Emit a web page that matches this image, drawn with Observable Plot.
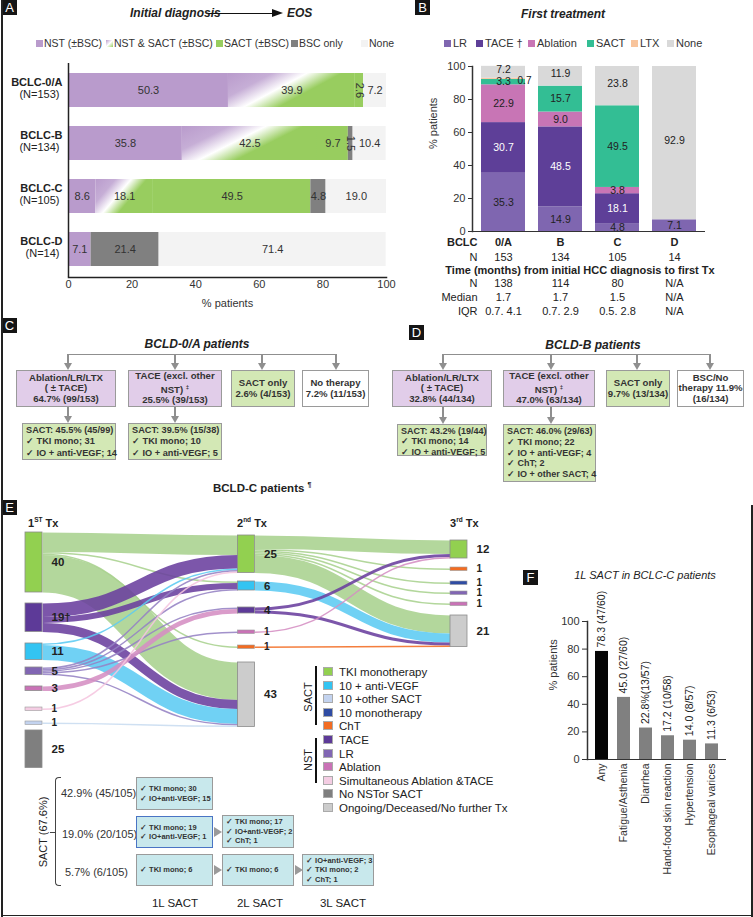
<!DOCTYPE html>
<html>
<head>
<meta charset="utf-8">
<script src="https://cdn.jsdelivr.net/npm/d3@7"></script>
<script src="https://cdn.jsdelivr.net/npm/@observablehq/plot@0.6"></script>
<style>
html,body{margin:0;padding:0;background:#fff;}
#fig{position:relative;width:753px;height:917px;overflow:hidden;font-family:"Liberation Sans",Arial,Helvetica,sans-serif;color:#222;}
#fig div{position:absolute;}
.plab{background:#151515;color:#fff;font-size:13px;width:15px;height:15px;line-height:15px;text-align:center;}
.ttl{font-size:12px;font-weight:bold;font-style:italic;white-space:nowrap;line-height:14px;}
.lg{font-size:10.5px;white-space:nowrap;line-height:13px;color:#333;}
.box{box-sizing:border-box;border:1px solid #9a9a9a;font-size:9.6px;font-weight:bold;color:#333;line-height:10.5px;display:flex;flex-direction:column;justify-content:center;align-items:center;text-align:center;white-space:nowrap;}
.sub{box-sizing:border-box;border:1px solid #9a9a9a;font-size:9.2px;font-weight:bold;color:#333;line-height:11.3px;padding:1px 3px;white-space:nowrap;}
.cyan{box-sizing:border-box;border:1px solid #9a9a9a;background:#c8e8ec;font-size:7.5px;font-weight:bold;color:#333;line-height:9.5px;padding:0 3px;white-space:nowrap;display:flex;flex-direction:column;justify-content:center;}
.txt{white-space:nowrap;}
</style>
</head>
<body>
<div id="fig"></div>
<script>
// ================= DATA =================
// Panel A: status from initial diagnosis to end of study
const stagesA = ["BCLC-0/A", "BCLC-B", "BCLC-C", "BCLC-D"];
const stageNA = ["(N=153)", "(N=134)", "(N=105)", "(N=14)"];
const catsA = ["NST (±BSC)", "NST & SACT (±BSC)", "SACT (±BSC)", "BSC only", "None"];
const nstA = [50.3, 35.8, 8.6, 7.1];
const nstSactA = [39.9, 42.5, 18.1, 0];
const sactA = [2.6, 9.7, 49.5, 0];
const bscA = [0, 1.5, 4.8, 21.4];
const noneA = [7.2, 10.4, 19.0, 71.4];
const ticksPct = [0, 20, 40, 60, 80, 100];

// Panel B: first treatment
const stagesB = ["0/A", "B", "C", "D"];
const catsB = ["LR", "TACE †", "Ablation", "SACT", "LTX", "None"];
const lrB = [35.3, 14.9, 4.8, 7.1];
const taceB = [30.7, 48.5, 18.1, 0];
const ablB = [22.9, 9.0, 3.8, 0];
const sactB = [3.3, 15.7, 49.5, 0];
const ltxB = [0.7, 0, 0, 0];
const noneB = [7.2, 11.9, 23.8, 92.9];
const nB = ["153", "134", "105", "14"];
const timeNB = ["138", "114", "80", "N/A"];
const medianB = ["1.7", "1.7", "1.5", "N/A"];
const iqrB = ["0.7. 4.1", "0.7. 2.9", "0.5. 2.8", "N/A"];

// Panel E: Sankey of BCLC-C treatment lines
const col1Nodes = ["TKI", "TACE", "IOV", "LR", "Abl", "Sim", "IOO", "NoNST"];
const col1Values = [40, 19, 11, 5, 3, 1, 1, 25];
const col1Labels = ["40", "19†", "11", "5", "3", "1", "1", "25"];
const col2Nodes = ["TKI", "IOV", "TACE", "Abl", "ChT", "Ong"];
const col2Values = [25, 6, 4, 1, 1, 43];
const col2Labels = ["25", "6", "4", "1", "1", "43"];
const col3Nodes = ["TKI", "ChT", "IOm", "LR", "Abl", "Ong"];
const col3Values = [12, 1, 1, 1, 1, 21];
const col3Labels = ["12", "1", "1", "1", "1", "21"];
const links12 = [
  ["TKI", "TKI", 13], ["TKI", "IOV", 1], ["TKI", "ChT", 1], ["TKI", "Ong", 25],
  ["TACE", "TKI", 9], ["TACE", "IOV", 4], ["TACE", "Ong", 6],
  ["IOV", "TKI", 1], ["IOV", "Ong", 10],
  ["LR", "TKI", 1], ["LR", "IOV", 1], ["LR", "TACE", 1], ["LR", "Abl", 1], ["LR", "Ong", 1],
  ["Abl", "TACE", 3], ["Sim", "TKI", 1], ["IOO", "Ong", 1]
];
const links23 = [
  ["TKI", "TKI", 9], ["TKI", "ChT", 1], ["TKI", "IOm", 1], ["TKI", "LR", 1], ["TKI", "Abl", 1], ["TKI", "Ong", 12],
  ["IOV", "Ong", 6], ["TACE", "TKI", 2], ["TACE", "Ong", 2], ["Abl", "TKI", 1], ["ChT", "Ong", 1]
];
const legendE = ["TKI monotherapy", "10 + anti-VEGF", "10 +other SACT", "10 monotherapy", "ChT", "TACE", "LR", "Ablation", "Simultaneous Ablation &TACE", "No NSTor SACT", "Ongoing/Deceased/No further Tx"];
const legendEKeys = ["TKI", "IOV", "IOO", "IOm", "ChT", "TACE", "LR", "Abl", "Sim", "NoNST", "Ong"];

// Panel F: adverse events with 1L SACT
const aeNames = ["Any", "Fatigue/Asthenia", "Diarrhea", "Hand-food skin reaction", "Hypertension", "Esophageal varices"];
const aeValues = [78.3, 45.0, 22.8, 17.2, 14.0, 11.3];
const aeLabels = ["78.3 (47/60)", "45.0 (27/60)", "22.8%(13/57)", "17.2 (10/58)", "14.0 (8/57)", "11.3 (6/53)"];

// ================= STYLES / LAYOUT =================
const colorsA = ["#b99bcc", "url(#gradA)", "#98cd5f", "#808080", "#f3f3f3"];
const colorsB = ["#7f66b0", "#5e3f98", "#c875b5", "#33be94", "#f8c49c", "#d9d9d9"];
const nodeColor = {TKI: "#92d050", IOV: "#33c4f2", IOO: "#c3d3ef", IOm: "#2f4ca3", ChT: "#f26c22", TACE: "#5d3a98", LR: "#8166b3", Abl: "#c972b6", Sim: "#f4cde3", NoNST: "#7f7f7f", Ong: "#cccccc"};
const linkColor = {TKI: "#a9d18e", IOV: "#5ccbf2", IOO: "#c8dcf0", TACE: "#6a3f9e", LR: "#9582c4", Abl: "#d58ec3", Sim: "#f5c5df", ChT: "#f26c22"};
const gaps1 = [1.33, 7.33, 7.67, 5, 7.67, 11.67, 8.33, 4.33];
const gaps2 = [3.33, 5.67, 11.33, 12, 9, 9.67];
const gaps3 = [6.67, 6.67, 8.33, 5.67, 6.33, 7];
const PX = 1.5;       // pixels per patient in the Sankey
const NODE_W = 0.08;  // node width in column units
const FONT = "Liberation Sans, Arial, sans-serif";

const fig = document.getElementById("fig");
function el(cls, left, top, html, style = "") {
  const d = document.createElement("div");
  if (cls) d.className = cls;
  d.style.cssText = `left:${left}px;top:${top}px;` + style;
  d.innerHTML = cls === "box" ? `<span>${html}</span>` : html;
  fig.appendChild(d);
  return d;
}
function place(node, left, top) {
  node.style.position = "absolute"; node.style.left = left + "px"; node.style.top = top + "px";
  fig.appendChild(node);
}
function hline(x1, x2, y, c = "#8f8f8f", w = 1.5) { el("", x1, y, "", `width:${x2 - x1}px;height:${w}px;background:${c};`); }
function vline(x, y1, y2, c = "#8f8f8f", w = 1.5) { el("", x - w / 2, y1, "", `width:${w}px;height:${y2 - y1}px;background:${c};`); }
function arrowDown(x, y1, y2) {
  vline(x, y1, y2 - 5);
  el("", x - 4.5, y2 - 7, "", "width:0;height:0;border-left:4.5px solid transparent;border-right:4.5px solid transparent;border-top:7px solid #8f8f8f;");
}
function arrowRight(x, y) {
  el("", x, y - 5, "", "width:0;height:0;border-top:5px solid transparent;border-bottom:5px solid transparent;border-left:8px solid #9a9a9a;");
}

// ================= PANEL A =================
const seriesA = [nstA, nstSactA, sactA, bscA, noneA];
const rowsA = stagesA.flatMap((s, i) => catsA.map((c, j) => ({stage: s, cat: c, value: seriesA[j][i]})));
const plotA = Plot.plot({
  width: 390, height: 257, marginLeft: 68, marginRight: 4, marginTop: 3, marginBottom: 40,
  style: {fontFamily: FONT, fontSize: "11px", color: "#333", background: "transparent", overflow: "visible"},
  x: {domain: [0, 100]},
  y: {domain: stagesA, paddingInner: 0.35, paddingOuter: 0.17, axis: null},
  color: {domain: catsA, range: colorsA},
  marks: [
    Plot.barX(rowsA, {x: "value", y: "stage", fill: "cat", order: catsA}),
    Plot.text(rowsA, Plot.stackX({x: "value", y: "stage", z: "cat", order: catsA,
      text: d => d.value > 0 ? d.value.toFixed(1) : "", rotate: d => d.value < 3 ? 90 : 0, fill: "#333", fontSize: 11})),
    Plot.text(stagesA, {y: d => d, frameAnchor: "left", textAnchor: "end", dx: -6, dy: -8, fontWeight: "bold", fontSize: 11, fill: "#222"}),
    Plot.text(stagesA, {y: d => d, text: (d, i) => stageNA[i], frameAnchor: "left", textAnchor: "end", dx: -9, dy: 4, fontSize: 11, fill: "#222"}),
    Plot.ruleX([0], {stroke: "#222", strokeWidth: 1.5}),
    Plot.frame({anchor: "bottom", stroke: "#222", strokeWidth: 1.5}),
    Plot.axisX({ticks: ticksPct, tickSize: 0, tickPadding: 3, fontSize: 11, label: null}),
    Plot.text(["% patients"], {frameAnchor: "bottom", dy: 29, fontSize: 11, fill: "#333"})
  ]
});
{
  const svg = d3.select(plotA);
  const g = svg.insert("defs", ":first-child").append("linearGradient").attr("id", "gradA")
    .attr("x1", 0).attr("y1", 0).attr("x2", 1).attr("y2", 0.5);
  [[0, "#b99bcc"], [0.28, "#c6aed6"], [0.5, "#ffffff"], [0.72, "#98cd5f"], [1, "#98cd5f"]]
    .forEach(([o, c]) => g.append("stop").attr("offset", o).attr("stop-color", c));
}
place(plotA, 0, 60);

// title A
el("ttl", 130, 6, "Initial diagnosis");
hline(208, 273, 12.5, "#111", 1.2);
el("", 272, 9, "", "width:0;height:0;border-top:4px solid transparent;border-bottom:4px solid transparent;border-left:11px solid #111;");
el("ttl", 287, 6, "EOS");
// legend A
const lgA = [36, 106, 216, 291, 361];
catsA.forEach((c, i) => {
  const bg = i === 1 ? "linear-gradient(135deg,#b99bcc 0%,#ffffff 50%,#98cd5f 100%)" : colorsA[i];
  el("", lgA[i], 39.5, "", `width:7px;height:7px;background:${bg};`);
  el("lg", lgA[i] + 8, 36.5, c);
});

// ================= PANEL B =================
const seriesB = [lrB, taceB, ablB, sactB, ltxB, noneB];
const rowsB = stagesB.flatMap((s, i) => catsB.map((c, j) => ({stage: s, cat: c, value: seriesB[j][i]})));
const tableRows = [
  {label: "BCLC", values: stagesB, bold: true},
  {label: "N", values: nB, bold: false},
  {label: null, values: null, bold: true},
  {label: "N", values: timeNB, bold: false},
  {label: "Median", values: medianB, bold: false},
  {label: "IQR", values: iqrB, bold: false}
];
const tableDy = [14, 29, 42, 55, 69, 83];
const tableMarks = tableRows.flatMap((r, k) => {
  if (!r.values) return [Plot.text(["Time (months) from initial HCC diagnosis to first Tx"], {frameAnchor: "bottom", dy: tableDy[k], dx: -9, fontWeight: "bold", fontSize: 11, fill: "#222"})];
  return [
    Plot.text([r.label], {frameAnchor: "bottom-left", textAnchor: "end", dx: 5, dy: tableDy[k], fontWeight: r.bold ? "bold" : "normal", fontSize: 11, fill: "#222"}),
    Plot.text(stagesB, {x: d => d, text: (d, i) => r.values[i], frameAnchor: "bottom", dy: tableDy[k], fontWeight: r.bold ? "bold" : "normal", fontSize: 11, fill: "#222"})
  ];
});
const labelB = (d, keep) => (d.value > 0 && keep(d)) ? d.value.toFixed(1) : "";
const plotB = Plot.plot({
  width: 363, height: 266, marginLeft: 82, marginRight: 48, marginTop: 11, marginBottom: 90,
  style: {fontFamily: FONT, fontSize: "11px", color: "#333", background: "transparent", overflow: "visible"},
  x: {domain: stagesB, paddingInner: 0.22, paddingOuter: 0.12, axis: null},
  y: {domain: [0, 100]},
  color: {domain: catsB, range: colorsB},
  marks: [
    Plot.barY(rowsB, {x: "stage", y: "value", fill: "cat", order: catsB}),
    // regular segment labels
    Plot.text(rowsB, Plot.stackY({x: "stage", y: "value", z: "cat", order: catsB,
      text: d => labelB(d, d => d.value >= 3 && d.cat !== "None"),
      fill: d => d.cat === "TACE †" ? "#fff" : "#222",
      fontWeight: d => d.cat === "TACE †" ? "bold" : "normal",
      fontSize: 10.5})),
    // "None" labels at the top of each bar, nudged up a little
    Plot.text(rowsB, Plot.stackY({x: "stage", y: "value", z: "cat", order: catsB,
      text: d => labelB(d, d => d.cat === "None"), dy: -2.5, fill: "#222", fontSize: 10.5})),
    // small segment labels (SACT 3.3 in 0/A) nudged down a little
    Plot.text(rowsB, Plot.stackY({x: "stage", y: "value", z: "cat", order: catsB,
      text: d => labelB(d, d => d.value < 3 && d.cat !== "LTX" && d.cat !== "None"), dy: 3, fill: "#222", fontSize: 10})),
    // LTX label placed beside its thin segment
    Plot.text(rowsB, Plot.stackY({x: "stage", y: "value", z: "cat", order: catsB,
      text: d => labelB(d, d => d.cat === "LTX"), dx: 21, dy: 2, fill: "#222", fontSize: 10})),
    Plot.ruleY([0], {stroke: "#333", strokeWidth: 1.2}),
    Plot.frame({anchor: "left", stroke: "#333", strokeWidth: 1.5}),
    Plot.axisY({ticks: ticksPct, tickSize: 4, tickPadding: 3, fontSize: 11, label: null}),
    Plot.text(["% patients"], {frameAnchor: "left", rotate: -90, dx: -39, fontSize: 11, fill: "#333"}),
    ...tableMarks
  ]
});
place(plotB, 390, 55);
el("ttl", 563, 7, "First treatment", "transform:translateX(-50%);");
const lgB = [444, 476, 528, 587, 631, 667];
catsB.forEach((c, i) => {
  el("", lgB[i], 39.5, "", `width:7px;height:7px;background:${colorsB[i]};`);
  el("lg", lgB[i] + 9, 36.5, c, "font-size:11px;");
});

// ================= PANEL C =================
el("ttl", 197, 337, "BCLD-0/A patients", "transform:translateX(-50%);");
hline(68, 336.5, 353.5);
[68, 175, 262, 336].forEach(x => arrowDown(x, 354, 370));
el("box", 16, 370, "Ablation/LR/LTX<br>( ± TACE)<br>64.7% (99/153)", "width:100px;height:37px;background:#e1cde9;");
el("box", 128, 370, "TACE (excl. other<br>NST) <sup style='font-size:6px'>‡</sup><br>25.5% (39/153)", "width:94px;height:37px;background:#e1cde9;");
el("box", 231, 370, "SACT only<br>2.6% (4/153)", "width:64px;height:37px;background:#d3e8b5;");
el("box", 302, 370, "No therapy<br>7.2% (11/153)", "width:67px;height:37px;background:#fff;");
[68, 175].forEach(x => arrowDown(x, 407, 423));
el("sub", 22, 423, "SACT: 45.5% (45/99)<br>✓ TKI mono; 31<br>✓ IO + anti-VEGF; 14", "width:94px;height:37px;background:#d3e8b5;");
el("sub", 128, 423, "SACT: 39.5% (15/38)<br>✓ TKI mono; 10<br>✓ IO + anti-VEGF; 5", "width:94px;height:37px;background:#d3e8b5;");

// ================= PANEL D =================
el("ttl", 593, 338, "BCLD-B patients", "transform:translateX(-50%);");
hline(443, 710.5, 353.5);
[443, 551, 637, 710].forEach(x => arrowDown(x, 354, 370));
el("box", 392, 370, "Ablation/LR/LTX<br>( ± TACE)<br>32.8% (44/134)", "width:100px;height:37px;background:#e1cde9;");
el("box", 503, 370, "TACE (excl. other<br>NST) <sup style='font-size:6px'>‡</sup><br>47.0% (63/134)", "width:92px;height:37px;background:#e1cde9;");
el("box", 606, 370, "SACT only<br>9.7% (13/134)", "width:64px;height:37px;background:#d3e8b5;");
el("box", 677, 370, "BSC/No<br>therapy 11.9%<br>(16/134)", "width:67px;height:37px;background:#fff;");
[443, 551].forEach(x => arrowDown(x, 407, 424));
el("sub", 397, 424, "SACT: 43.2% (19/44)<br>✓ TKI mono; 14<br>✓ IO + anti-VEGF; 5", "width:90px;height:32px;background:#d3e8b5;line-height:10.3px;font-size:9px;");
el("sub", 503, 424, "SACT: 46.0% (29/63)<br>✓ TKI mono; 22<br>✓ IO + anti-VEGF; 4<br>✓ ChT; 2<br>✓ IO + other SACT; 4", "width:93px;height:58px;background:#d3e8b5;line-height:10.8px;font-size:9px;");

// ================= PANEL E (Sankey) =================
el("txt", 213, 481, "BCLD-C patients <sup style='font-size:7px'>¶</sup>", "font-size:11.5px;font-weight:bold;color:#222;");
function layoutColumn(names, values, labels, gaps, col) {
  let y = 0;
  return names.map((n, i) => {
    y += gaps[i];
    const d = {name: n, col, value: values[i], label: labels[i], y0: y, y1: y + values[i]};
    y += values[i];
    return d;
  });
}
function layoutLinks(links, srcNodes, tgtNodes) {
  const si = new Map(srcNodes.map((d, i) => [d.name, i]));
  const ti = new Map(tgtNodes.map((d, i) => [d.name, i]));
  const L = links.map(([s, t, v]) => ({s, t, value: v, src: srcNodes[si.get(s)], tgt: tgtNodes[ti.get(t)]}));
  for (const n of srcNodes) {
    let y = n.y0;
    L.filter(l => l.src === n).sort((a, b) => ti.get(a.t) - ti.get(b.t)).forEach(l => { l.ys = y + l.value / 2; y += l.value; });
  }
  for (const n of tgtNodes) {
    let y = n.y0;
    L.filter(l => l.tgt === n).sort((a, b) => si.get(a.s) - si.get(b.s)).forEach(l => { l.yt = y + l.value / 2; y += l.value; });
  }
  return L;
}
const n1 = layoutColumn(col1Nodes, col1Values, col1Labels, gaps1, 0);
const n2 = layoutColumn(col2Nodes, col2Values, col2Labels, gaps2, 1);
const n3 = layoutColumn(col3Nodes, col3Values, col3Labels, gaps3, 2);
const allNodes = [...n1, ...n2, ...n3];
const allLinks = [...layoutLinks(links12, n1, n2), ...layoutLinks(links23, n2, n3)];
const plotE = Plot.plot({
  width: 520, height: 256, margin: 0,
  style: {fontFamily: FONT, fontSize: "11px", color: "#222", background: "transparent", overflow: "visible"},
  x: {domain: [0, 2], range: [25, 450], axis: null},
  y: {domain: [0, 160], range: [15, 255], axis: null},
  color: {type: "identity"},
  marks: [
    Plot.link(allLinks, {x1: d => d.src.col + NODE_W, y1: "ys", x2: d => d.tgt.col, y2: "yt",
      stroke: d => linkColor[d.s], strokeWidth: d => d.value * PX, curve: "bump-x", strokeOpacity: 0.88}),
    Plot.rect(allNodes.filter(d => d.value > 1), {x1: "col", x2: d => d.col + NODE_W, y1: "y0", y2: "y1",
      fill: d => nodeColor[d.name], stroke: "#8c8c8c", strokeWidth: 0.8}),
    Plot.rect(allNodes.filter(d => d.value <= 1), {x1: "col", x2: d => d.col + NODE_W, y1: "y0", y2: "y1",
      fill: d => nodeColor[d.name], stroke: "#9a9a9a", strokeWidth: 0.6, insetTop: -1, insetBottom: -1}),
    Plot.text(allNodes.filter(d => d.value > 1), {x: d => d.col + NODE_W, y: d => (d.y0 + d.y1) / 2, text: "label", textAnchor: "start", dx: 9,
      fontWeight: "bold", fontSize: 11.5, fill: "#222"}),
    Plot.text(allNodes.filter(d => d.value <= 1), {x: d => d.col + NODE_W, y: d => (d.y0 + d.y1) / 2, text: "label", textAnchor: "start", dx: 9,
      fontWeight: "bold", fontSize: 10, fill: "#222"})
  ]
});
place(plotE, 0, 515);
el("txt", 28, 516, "1<sup style='font-size:6.5px'>ST</sup> Tx", "font-size:11px;font-weight:bold;");
el("txt", 237, 516, "2<sup style='font-size:6.5px'>nd</sup> Tx", "font-size:11px;font-weight:bold;");
el("txt", 450, 516, "3<sup style='font-size:6.5px'>rd</sup> Tx", "font-size:11px;font-weight:bold;");
// legend E
legendE.forEach((t, i) => {
  const cy = 672 + i * 13.6;
  el("", 323, cy - 5, "", `width:10px;height:9px;box-sizing:border-box;border:1px solid #aaa;background:${nodeColor[legendEKeys[i]]};`);
  el("txt", 339, cy - 7, t, "font-size:11.5px;line-height:14px;color:#222;");
});
vline(316, 666, 725, "#111", 1.5);
vline(316, 738, 783, "#111", 1.5);
el("txt", 308, 697, "SACT", "font-size:11px;transform:translate(-50%,-50%) rotate(-90deg);");
el("txt", 308, 760, "NST", "font-size:11px;transform:translate(-50%,-50%) rotate(-90deg);");

// bottom of E: SACT lines
el("", 55, 777, "", "width:6px;height:109px;box-sizing:border-box;border:1px solid #444;border-right:none;border-radius:4px 0 0 4px;");
hline(50, 55, 831.5, "#444", 1);
el("txt", 43, 832, "SACT (67.6%)", "font-size:11px;transform:translate(-50%,-50%) rotate(-90deg);");
el("txt", 61, 786, "42.9% (45/105)", "font-size:11px;line-height:14px;color:#333;");
el("txt", 62, 827, "19.0% (20/105)", "font-size:11px;line-height:14px;color:#333;");
el("txt", 65, 865, "5.7% (6/105)", "font-size:11px;line-height:14px;color:#333;");
el("cyan", 136, 777, "<span>✓ TKI mono; 30</span><span>✓ IO+anti-VEGF; 15</span>", "width:77px;height:33px;");
el("cyan", 136, 816, "<span>✓ TKI mono; 19</span><span>✓ IO+anti-VEGF; 1</span>", "width:77px;height:32px;border-color:#4a74c4;");
arrowRight(214, 832);
el("cyan", 222, 815, "<span>✓ TKI mono; 17</span><span>✓ IO+anti-VEGF; 2</span><span>✓ ChT; 1</span>", "width:72px;height:33px;");
el("cyan", 136, 854, "<span>✓ TKI mono; 6</span>", "width:77px;height:32px;");
arrowRight(214, 870);
el("cyan", 222, 854, "<span>✓ TKI mono; 6</span>", "width:72px;height:32px;");
arrowRight(295, 870);
el("cyan", 302, 854, "<span>✓ IO+anti-VEGF; 3</span><span>✓ TKI mono; 2</span><span>✓ ChT; 1</span>", "width:72px;height:32px;");
el("txt", 175, 896, "1L SACT", "font-size:11.5px;line-height:14px;transform:translateX(-50%);");
el("txt", 260, 896, "2L SACT", "font-size:11.5px;line-height:14px;transform:translateX(-50%);");
el("txt", 343, 896, "3L SACT", "font-size:11.5px;line-height:14px;transform:translateX(-50%);");

// ================= PANEL F =================
const rowsF = aeNames.map((n, i) => ({name: n, value: aeValues[i], label: aeLabels[i]}));
const plotF = Plot.plot({
  width: 243, height: 300, marginLeft: 77, marginRight: 27, marginTop: 21, marginBottom: 141,
  style: {fontFamily: FONT, fontSize: "10.5px", color: "#333", background: "transparent", overflow: "visible"},
  x: {domain: aeNames, paddingInner: 0.39, paddingOuter: 0.22},
  y: {domain: [0, 100]},
  color: {type: "identity"},
  marks: [
    Plot.barY(rowsF, {x: "name", y: "value", fill: d => d.name === "Any" ? "#050505" : "#808080"}),
    Plot.text(rowsF, {x: "name", y: "value", text: "label", rotate: -90, textAnchor: "start", dy: -4, fontSize: 10.5, fill: "#222"}),
    Plot.ruleY([0], {stroke: "#333", strokeWidth: 1.2}),
    Plot.frame({anchor: "left", stroke: "#333", strokeWidth: 1.5}),
    Plot.axisY({ticks: ticksPct, tickSize: 5, tickPadding: 3, fontSize: 11, label: null}),
    Plot.axisX({tickRotate: -90, tickSize: 0, tickPadding: 4, fontSize: 10.5, label: null}),
    Plot.text(["% patients"], {frameAnchor: "left", rotate: -90, dx: -34, fontSize: 11, fill: "#333"})
  ]
});
place(plotF, 510, 600);
el("", 645, 568, "1L SACT in BCLC-C patients", "font-size:11px;font-style:italic;white-space:nowrap;transform:translateX(-50%);line-height:14px;");

// ================= panel labels & borders =================
[["A", 2, 0], ["B", 415, 0], ["C", 2, 318], ["D", 409, 325], ["E", 2, 500], ["F", 523, 570]]
  .forEach(([t, x, y]) => el("plab", x, y, t));
vline(2, 0, 917, "#222", 1.5);
vline(752, 505, 917, "#222", 1.5);
hline(2, 753, 914.5, "#222", 1.5);
</script>
</body>
</html>
